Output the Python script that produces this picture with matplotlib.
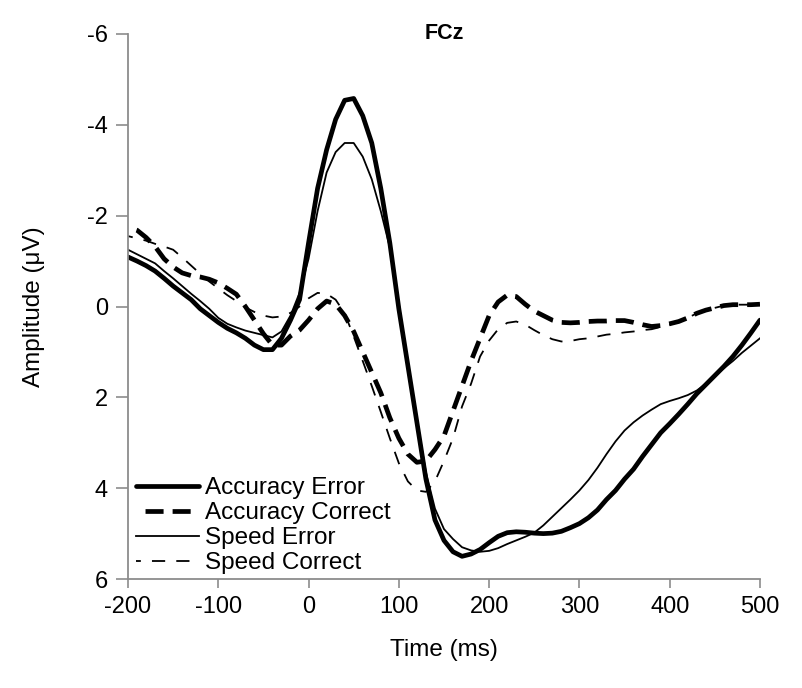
import matplotlib
matplotlib.use('Agg')
import matplotlib.pyplot as plt
import numpy as np

plt.rcParams['font.family'] = ['Liberation Sans', 'DejaVu Sans']
plt.rcParams['axes.unicode_minus'] = False
plt.rcParams['lines.scale_dashes'] = False

# time axis (ms), one sample every 10 ms
time_ms = np.arange(-200, 501, 10)

# amplitudes (uV)
acc_error = [
    -1.09, -1.0, -0.9, -0.78, -0.62, -0.45, -0.3, -0.15, 0.05, 0.2,
    0.35, 0.48, 0.58, 0.7, 0.85, 0.95, 0.95, 0.7, 0.3, -0.15,
    -1.4, -2.6, -3.45, -4.12, -4.54, -4.58, -4.2, -3.6, -2.6, -1.4,
    0.05, 1.3, 2.55, 3.8, 4.7, 5.15, 5.4, 5.5, 5.45, 5.35,
    5.2, 5.06, 4.98, 4.96, 4.97, 4.99, 5.0, 4.99, 4.95, 4.87,
    4.78, 4.65, 4.48, 4.25, 4.05, 3.8, 3.58, 3.3, 3.04, 2.78,
    2.58, 2.37, 2.15, 1.92, 1.72, 1.52, 1.32, 1.1, 0.85, 0.58,
    0.3,
]
acc_correct = [
    -1.75, -1.68, -1.52, -1.32, -1.05, -0.87, -0.74, -0.68, -0.65, -0.6,
    -0.52, -0.4, -0.27, 0.0, 0.3, 0.6, 0.85, 0.85, 0.65, 0.52,
    0.3, 0.05, -0.12, -0.05, 0.2, 0.55, 1.0, 1.45, 1.9, 2.45,
    2.9, 3.25, 3.43, 3.4, 3.15, 2.85, 2.3, 1.75, 1.2, 0.7,
    0.2, -0.1, -0.25, -0.22, -0.05, 0.1, 0.2, 0.3, 0.35, 0.36,
    0.35, 0.33, 0.32, 0.32, 0.31, 0.31, 0.35, 0.4, 0.44, 0.42,
    0.38, 0.33, 0.25, 0.15, 0.08, 0.03, -0.02, -0.04, -0.04, -0.04,
    -0.05,
]
speed_error = [
    -1.25, -1.15, -1.05, -0.95, -0.78, -0.62, -0.45, -0.28, -0.12, 0.05,
    0.25, 0.38, 0.46, 0.53, 0.58, 0.63, 0.68, 0.55, 0.2, -0.3,
    -1.05, -2.1, -2.95, -3.4, -3.6, -3.6, -3.3, -2.8, -2.1, -1.3,
    -0.05, 1.25, 2.5, 3.65, 4.45, 4.9, 5.12, 5.3, 5.37, 5.4,
    5.38, 5.32, 5.23, 5.15, 5.07, 4.98, 4.82, 4.63, 4.44, 4.25,
    4.05, 3.82, 3.55, 3.25, 2.97, 2.73, 2.55, 2.4, 2.27, 2.15,
    2.08, 2.02, 1.95, 1.85, 1.7, 1.53, 1.36, 1.2, 1.02, 0.86,
    0.7,
]
speed_correct = [
    -1.55, -1.5, -1.45, -1.38, -1.32, -1.25, -1.08, -0.9, -0.72, -0.55,
    -0.4, -0.25, -0.12, 0.02, 0.12, 0.2, 0.24, 0.22, 0.14, 0.0,
    -0.18, -0.3, -0.28, -0.15, 0.15, 0.66, 1.2, 1.75, 2.32, 2.9,
    3.45, 3.85, 4.05, 4.08, 3.85, 3.4, 2.9, 2.2, 1.7, 1.1,
    0.75, 0.5, 0.36, 0.33, 0.4, 0.52, 0.63, 0.72, 0.77, 0.76,
    0.72, 0.7, 0.66, 0.62, 0.6, 0.57, 0.55, 0.52, 0.5, 0.45,
    0.4, 0.33, 0.25, 0.15, 0.08, 0.03, -0.02, -0.04, -0.04, -0.04,
    -0.05,
]

fig = plt.figure(figsize=(8.02, 6.88), dpi=100)
ax = fig.add_axes([0.1596, 0.1584, 0.788, 0.7922])

ax.plot(time_ms, acc_error, color='black', lw=3.4, label='Accuracy Error',
        solid_joinstyle='round', solid_capstyle='round')
ax.plot(time_ms, acc_correct, color='black', lw=3.4, label='Accuracy Correct',
        linestyle=(13, (13, 6.5)))
ax.plot(time_ms, speed_error, color='black', lw=1.3, label='Speed Error',
        solid_joinstyle='round')
ax.plot(time_ms, speed_correct, color='black', lw=1.3, label='Speed Correct',
        linestyle=(6, (9.5, 8)))

ax.set_xlim(-200, 500)
ax.set_ylim(6, -6)
ax.set_xticks(np.arange(-200, 501, 100))
ax.set_yticks(np.arange(-6, 7, 2))

for s in ['top', 'right']:
    ax.spines[s].set_visible(False)
for s in ['left', 'bottom']:
    ax.spines[s].set_color('#8c8c8c')
    ax.spines[s].set_linewidth(1.3)

ax.tick_params(axis='x', direction='out', length=6.5, width=1.2,
               color='#8c8c8c', labelsize=17, pad=6)
ax.tick_params(axis='y', direction='out', length=8.5, width=1.2,
               color='#8c8c8c', labelsize=17, pad=6)

ax.set_xlabel('Time (ms)', fontsize=17.5, va='center')
ax.xaxis.set_label_coords(0.5, -0.13)
ax.set_ylabel('Amplitude (μV)', fontsize=17.5, va='center')
ax.yaxis.set_label_coords(-0.148, 0.5)

ax.text(0.5, 1.0, 'FCz', transform=ax.transAxes, ha='center', va='center',
        fontsize=15.5, fontweight='bold')

ax.legend(loc='lower left', bbox_to_anchor=(0.005, 0.0), frameon=False,
          fontsize=17.5, handlelength=2.6, handletextpad=0.25,
          labelspacing=0.12, borderpad=0.2, borderaxespad=0.0)

fig.savefig('out.png', dpi=100)
